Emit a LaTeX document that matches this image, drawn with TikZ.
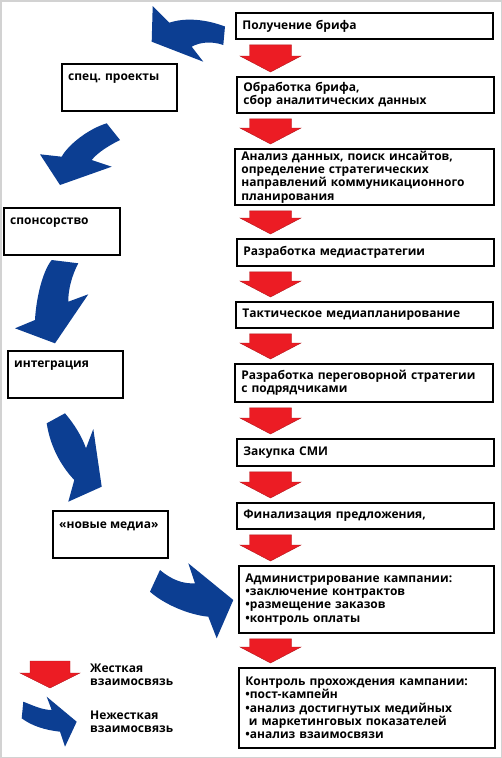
\documentclass[tikz,border=0pt]{standalone}
\usepackage{fontspec}
\setmainfont{Open Sans}
\usetikzlibrary{calc}
\definecolor{hardred}{RGB}{236,28,36}
\definecolor{softblue}{RGB}{12,62,146}
\tikzset{
  txt/.style={font=\bfseries\fontsize{12}{13.3}\selectfont},
  rbox/.style={txt, draw=black, line width=1.8pt, anchor=north west, align=left,
    inner xsep=6.5pt, inner ysep=0pt},
  lbox/.style={draw=black, line width=1.8pt, anchor=north west,
    minimum width=115pt, minimum height=47pt, inner sep=0pt},
  ltext/.style={txt, anchor=west, inner sep=0pt},
  legtext/.style={txt, anchor=west, align=left, inner sep=0pt},
  hard/.style={fill=hardred, draw=hardred!75!black, line width=0.4pt},
  soft/.style={fill=softblue},
}
% hard (red) connector from box #1 to box #2
\newcommand\hardarr[2]{%
  \path[hard] let \p1=(#1.south), \p2=(#2.north),
      \n1={\y1-5pt}, \n2={\y2+4pt}, \n3={\y2+20pt} in
    (249.5pt,\n1) -- (291.5pt,\n1) -- (291.5pt,\n3) -- (301pt,\n3) -- (270.5pt,\n2)
    -- (240pt,\n3) -- (249.5pt,\n3) -- cycle;}
\begin{document}
\begin{tikzpicture}[x=1pt,y=-1pt]
\useasboundingbox (0,0) rectangle (502,758);
\draw[gray!35, line width=1.5pt] (0.75,0.75) rectangle (501.25,757.25);

% right column
\node[rbox, text width=244pt, minimum height=26pt] (b1) at (235,12) {Получение брифа};
\node[rbox, text width=244pt, minimum height=36pt] (b2) at (236,76) {Обработка брифа,\\сбор аналитических данных};
\node[rbox, text width=246pt, minimum height=56pt] (b3) at (234,148) {Анализ данных, поиск инсайтов,\\определение стратегических\\направлений коммуникационного\\планирования};
\node[rbox, text width=244pt, minimum height=27pt] (b4) at (236,238) {Разработка медиастратегии};
\node[rbox, text width=244pt, minimum height=26pt] (b5) at (235,301) {Тактическое медиапланирование};
\node[rbox, text width=245pt, minimum height=38pt] (b6) at (234,363) {Разработка переговорной стратегии\\с подрядчиками};
\node[rbox, text width=244pt, minimum height=27pt] (b7) at (236,438) {Закупка СМИ};
\node[rbox, text width=244pt, minimum height=26pt] (b8) at (236,502) {Финализация предложения,};
\node[rbox, text width=242pt, minimum height=67pt] (b9) at (238,565) {Администрирование кампании:\\•заключение контрактов\\•размещение заказов\\•контроль оплаты};
\node[rbox, text width=243pt, minimum height=80pt] (b10) at (238,667) {Контроль прохождения кампании:\\•пост-кампейн\\•анализ достигнутых медийных\\\hspace*{3.5pt}и маркетинговых показателей\\•анализ взаимосвязи};

% hard links
\hardarr{b1}{b2}
\hardarr{b2}{b3}
\hardarr{b3}{b4}
\hardarr{b4}{b5}
\hardarr{b5}{b6}
\hardarr{b6}{b7}
\hardarr{b7}{b8}
\hardarr{b8}{b9}
\hardarr{b9}{b10}

% left column
\node[lbox] (s1) at (61,63) {};
\node[ltext] (s1t) at ($(s1.north west)+(7,16)$) {спец. проекты};
\node[lbox, minimum width=116pt] (s2) at (3,207) {};
\node[ltext] (s2t) at ($(s2.north west)+(7,16)$) {спонсорство};
\node[lbox] (s3) at (7,350) {};
\node[ltext] (s3t) at ($(s3.north west)+(7,16)$) {интеграция};
\node[lbox] (s4) at (52,510) {};
\node[ltext] (s4t) at ($(s4.north west)+(7,16)$) {«новые медиа»};

% soft (blue) links
\fill[soft] (152.7,6) -- (169.3,22.7) .. controls (185,17.5) and (205,19) .. (225,26.5)
  -- (223.3,45) .. controls (212,41) and (200,42) .. (191.7,46.7)
  -- (203.3,61.7) -- (151.7,41.7) -- cycle;
\fill[soft] (40,154.3) -- (61.7,156.7) .. controls (68,145) and (88,129) .. (106.7,123.3)
  -- (120,140) .. controls (110,145) and (98,152) .. (91.7,160)
  -- (111.7,166.7) -- (60,185) -- cycle;
\fill[soft] (51.7,260) -- (78.3,263.3) .. controls (72,275) and (68,290) .. (68.3,301.7)
  -- (88.3,294.3) -- (55,343.3) -- (15,328.3) -- (35,320)
  .. controls (36,300) and (42,272) .. cycle;
\fill[soft] (46.7,423.3) -- (65,413.3) .. controls (75,425) and (82,437) .. (86,448.3)
  -- (93.3,429) -- (101.7,486.7) -- (68.3,501.7) -- (74.3,480)
  .. controls (60,465) and (50,445) .. cycle;
\fill[soft] (160,570) .. controls (172,580) and (183,584) .. (195,583.3)
  -- (188.3,563.3) -- (233.3,600) -- (216.7,638.3) -- (208.3,616.7)
  .. controls (190,615) and (165,605) .. (150,591.7) -- cycle;

% legend
\path[hard] (30,661) -- (70,661) -- (70,673) -- (80,673) -- (50,688) -- (20,673) -- (30,673) -- cycle;
\node[legtext] (lg1) at (90,674.5) {Жесткая\\взаимосвязь};
\fill[soft] (23.3,701.7) .. controls (32,705) and (42,710) .. (51.7,710)
  -- (46.7,696.7) -- (76.7,721.7) -- (65,746.7) -- (60,731.7)
  .. controls (45,730) and (32,726) .. (21.7,718.3) -- cycle;
\node[legtext] (lg2) at (90,721.5) {Нежесткая\\взаимосвязь};
\end{tikzpicture}
\end{document}
